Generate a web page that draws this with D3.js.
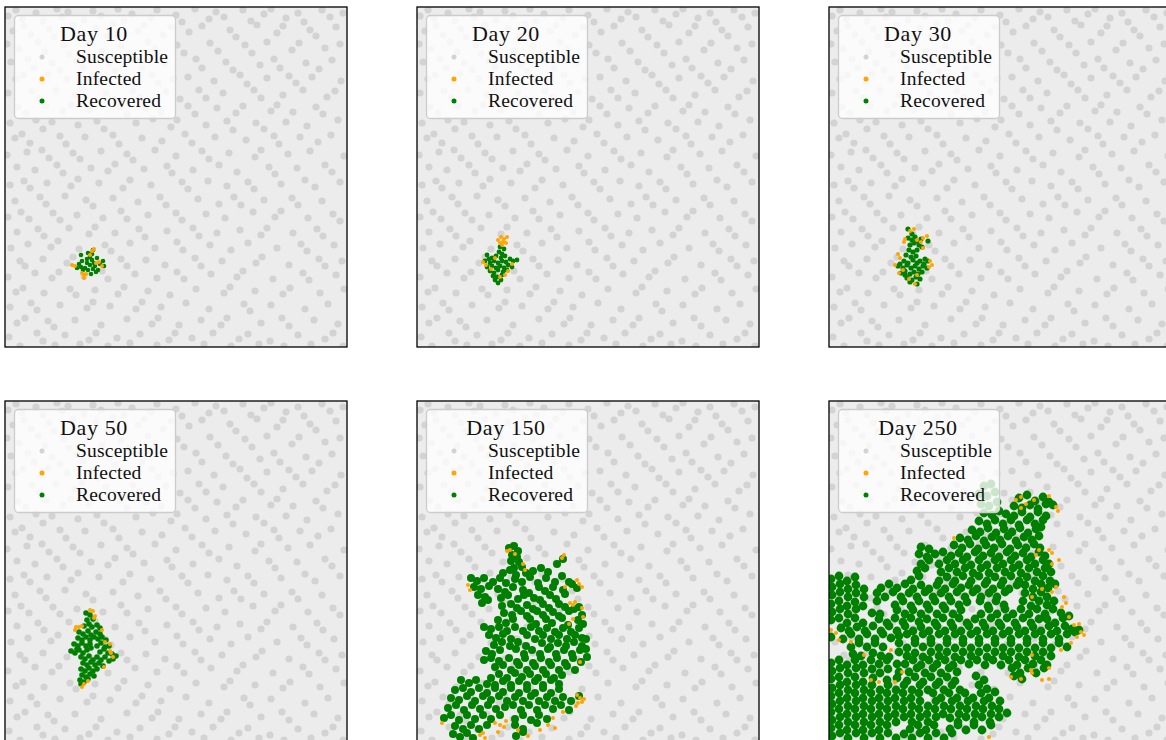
<!DOCTYPE html>
<html><head><meta charset="utf-8">
<script src="https://cdn.jsdelivr.net/npm/d3@7"></script>
<style>html,body{margin:0;padding:0;background:#fff;overflow:hidden}svg{display:block}text{font-family:"Liberation Serif",serif;fill:#111}</style>
</head><body><svg id="c" width="1166" height="740"></svg>
<script>
const days = [10,20,30,50,150,250];
const seriesNames = ["Susceptible","Infected","Recovered"];
const seriesColors = ["#d3d3d3","#ffa500","#008000"];
const susceptible = [
3,9,11,3,17,12,31,6,38,14,52,2,57,10,63,5,79,13,88,4,96,9,113,2,119,14,127,7,146,11,152,3,171,8,177,15,190,2,204,12,211,5,219,10,238,3,246,14,259,7,266,2,281,11,293,6,299,15,317,3,325,10,338,6,
8,24,19,19,26,28,44,22,49,30,68,18,74,27,91,21,102,29,108,17,133,24,139,18,158,28,166,20,184,25,197,19,225,23,231,30,252,18,272,26,278,19,305,23,311,29,331,20,
2,37,14,42,33,35,40,45,59,38,64,47,83,36,97,44,116,39,124,47,143,35,150,42,172,38,179,46,205,36,213,44,240,38,247,46,262,35,287,43,294,36,320,41,335,37,
6,55,23,52,29,61,47,56,55,63,72,54,78,60,104,57,110,64,130,53,137,61,160,56,191,52,197,61,221,55,228,63,255,58,269,52,275,61,301,56,314,62,327,53,
11,72,18,68,37,75,43,67,62,72,87,69,93,77,120,71,147,68,153,76,168,72,183,70,209,74,235,68,242,77,262,71,284,69,291,76,307,70,336,74,
3,86,27,84,34,91,51,83,70,88,77,82,101,86,109,92,128,84,135,90,161,85,175,92,194,83,201,91,218,86,249,83,256,91,278,88,298,83,322,90,330,84,
13,100,21,106,41,99,58,104,66,98,84,103,115,100,122,107,141,101,156,105,183,99,190,107,212,101,231,106,238,99,266,104,272,98,288,105,311,100,318,107,
5,116,31,113,38,122,47,115,73,118,92,114,99,122,131,116,148,112,166,120,172,113,201,118,222,114,228,123,251,116,259,122,281,115,302,119,333,113,
10,131,17,127,25,136,55,129,61,137,80,130,108,128,114,137,137,131,157,134,180,127,187,136,210,130,241,133,269,129,274,137,295,130,313,135,326,128,
2,148,22,145,37,143,44,151,68,146,75,152,96,144,122,147,128,153,150,143,171,149,197,144,204,152,224,146,250,150,256,143,283,147,305,144,339,149,
12,160,30,163,52,158,58,166,86,161,103,164,110,157,139,162,162,159,167,166,188,163,214,158,232,165,264,160,270,167,292,161,320,158,327,165,
5,178,19,174,25,181,42,176,66,179,73,172,94,176,118,181,125,173,146,178,177,175,183,182,203,174,222,179,243,175,249,182,276,177,300,173,310,180,335,175,
10,194,35,190,41,197,60,189,81,193,88,199,108,191,133,195,155,190,161,198,193,192,214,197,229,190,236,198,259,193,287,191,293,198,317,194,
3,210,16,205,24,212,48,206,55,213,72,208,98,211,116,204,122,212,143,208,171,206,177,213,201,207,220,211,248,205,270,210,276,204,303,211,328,207,335,214,
12,225,33,222,39,229,64,221,84,227,90,220,110,226,134,222,140,230,162,224,188,221,194,229,212,226,235,223,256,228,262,221,288,226,312,222,318,229,
6,241,23,237,46,240,53,234,74,242,100,238,106,244,125,236,150,241,172,235,178,243,205,238,226,243,243,236,272,241,296,237,302,244,329,238,
15,254,20,259,38,252,62,256,68,250,88,258,116,252,122,259,141,253,160,258,190,251,196,259,217,254,251,256,257,250,284,258,314,252,320,259,337,254,
3,270,30,266,47,271,54,265,79,269,97,264,103,272,130,267,152,271,172,265,179,272,206,267,232,270,238,264,268,272,298,266,304,273,331,268,
11,285,18,281,39,286,65,282,71,288,90,283,113,287,119,280,143,284,165,288,191,282,219,286,225,280,250,284,278,287,285,281,315,286,339,282,
5,300,26,296,32,303,55,298,82,301,88,295,105,299,131,302,137,295,156,300,181,296,204,302,239,297,245,304,266,298,300,302,323,297,
12,316,20,311,43,314,49,320,70,313,96,318,122,312,147,317,153,311,174,318,196,313,216,318,222,311,256,316,277,311,284,319,309,313,333,317,
4,330,32,326,38,334,60,328,84,333,91,326,112,331,135,327,164,333,170,326,187,331,208,326,234,332,243,327,265,334,293,328,320,332,328,326,
15,339,50,338,75,337,103,339,125,336,152,338,199,337,226,339,254,337,279,339,306,337,338,339];

const infected10 = [67,258,70,259,77,266,79,268,79,271,81,267,91,256,94,255,87,244,89,242,85,248,97,259];
const recovered10 = [76,248,83,246,88,243,77,254,82,252,85,250,92,251,98,254,87,253,89,256,76,260,80,261,85,258,90,259,95,257,78,263,83,263,88,262,93,263,86,267,82,256,74,257,87,247,99,259,72,261,91,265];

const infected20 = [81,233,84,230,87,232,90,230,83,236,86,235,89,236,85,238,69,258,66,255,78,251,95,257,91,264,88,268,74,262,83,270];
const recovered20 = [83,240,87,242,82,245,85,247,79,249,84,251,88,249,70,248,75,251,68,254,73,256,77,254,81,256,85,254,89,255,93,252,96,254,100,253,70,260,75,259,79,261,83,259,87,261,91,258,95,260,73,264,77,266,81,263,86,265,90,263,76,269,80,270,85,268,78,273,84,273,81,276,72,252];

const infected30 = [81,224,85,222,76,232,75,235,88,233,94,231,98,229,92,235,94,241,69,247,71,251,66,258,74,263,80,272,88,268,86,277,101,254,103,258,100,260,70,266];
const recovered30 = [79,222,83,227,86,230,79,231,83,233,88,234,92,232,99,234,81,238,85,236,90,238,93,240,80,243,84,245,88,243,77,248,82,250,87,249,75,254,79,256,84,253,88,256,91,254,95,257,99,254,69,259,74,261,78,258,82,261,86,259,90,262,94,259,98,261,72,266,76,264,81,267,85,265,89,267,93,265,78,271,83,273,87,270,91,272,88,277,81,275,76,268,71,257,96,252];

const infected50 = [85,209,88,210,90,215,89,217,71,226,74,226,77,225,70,229,97,229,100,241,105,243,105,250,106,252,108,256,99,266,79,283,77,286,83,280];
const recovered50 = [81,212,85,214,88,218,82,219,79,225,84,223,87,226,92,224,95,227,74,231,78,233,83,230,86,234,91,231,95,233,73,237,77,239,81,236,85,239,89,236,93,238,97,236,101,239,69,243,73,245,77,242,81,245,85,243,92,245,96,242,100,246,104,245,66,250,70,252,74,249,78,252,82,249,95,251,99,248,103,252,107,253,111,255,76,256,80,258,84,255,88,259,92,256,96,259,100,256,104,260,108,258,78,262,82,264,86,261,90,264,94,262,98,265,76,268,80,270,84,267,88,270,92,268,77,274,81,276,85,273,89,275,75,279,79,281,83,278,76,283,72,248,86,247];

const infected150 = [93,149,90,150,98,153,106,163,108,169,51,184,53,189,145,157,147,154,160,179,162,183,165,186,148,186,153,202,156,204,158,201,165,207,156,218,166,216,152,223,163,261,160,294,161,302,165,301,167,298,159,305,163,297,146,311,25,322,78,322,83,324,87,326,89,320,81,331,63,334,66,332,68,337,131,324,138,327,123,329,101,329,111,335,136,317];
const recovered150 = [
92,147,97,145,101,150,95,154,100,156,94,160,102,161,97,167,105,166,86,172,93,169,99,174,109,172,116,170,124,167,131,171,140,163,146,158,
54,177,60,180,67,177,76,181,83,177,89,182,98,178,105,181,113,176,121,182,129,177,138,181,145,175,152,181,
57,186,64,188,72,185,81,188,88,191,96,186,106,189,112,192,122,186,128,190,136,186,146,189,155,183,160,187,
61,194,68,196,84,197,91,194,101,198,107,194,117,197,123,199,133,194,139,198,148,193,
65,202,71,199,85,205,94,203,100,207,110,204,116,208,126,203,132,207,142,203,148,206,
87,212,95,214,104,210,110,215,120,210,126,214,136,211,142,215,152,210,157,208,162,206,
81,219,89,222,96,218,113,218,119,223,129,218,135,222,145,217,151,224,161,219,165,214,
67,226,74,228,82,226,90,230,98,226,106,230,114,226,122,230,130,227,138,231,146,227,154,231,162,227,166,223,
72,234,79,237,86,233,94,238,110,234,118,238,126,234,134,238,142,234,150,238,158,234,165,237,
77,244,85,241,93,245,101,241,109,245,125,242,133,246,141,242,149,245,157,241,165,245,169,238,
69,250,75,253,83,249,99,248,107,253,115,249,123,253,131,248,139,253,147,249,155,253,163,249,169,248,
67,259,74,257,82,260,92,257,100,261,108,257,116,262,124,257,132,261,140,257,148,262,156,257,164,261,170,256,
78,266,86,264,94,269,102,264,110,269,118,265,126,269,134,264,142,269,150,265,158,269,
74,277,82,273,90,277,98,272,105,276,113,273,121,277,129,273,137,277,145,274,
44,279,52,282,59,279,70,283,78,284,86,280,94,284,102,280,110,284,118,280,126,284,134,279,142,283,
38,289,46,287,54,291,62,287,70,292,78,287,86,291,94,287,102,292,110,288,118,292,126,287,134,292,142,288,
34,297,42,299,50,295,58,300,66,295,74,299,82,295,90,300,98,296,106,300,114,295,122,300,130,296,138,300,146,296,154,300,162,295,
31,307,39,304,47,309,55,304,63,308,71,304,79,308,88,306,96,304,104,309,112,304,120,309,128,304,136,308,144,304,152,309,
27,317,34,314,42,319,50,314,58,318,66,314,74,318,83,314,98,318,106,314,114,319,122,314,130,318,
38,325,46,328,54,324,62,328,70,324,98,324,106,328,120,322,
36,333,43,336,50,332,56,337,99,335,106,331];

const infected250 = [192,96,187,99,197,103,192,107,205,99,220,95,227,106,229,110,210,149,220,149,223,152,207,154,230,159,223,163,227,186,223,191,235,196,237,202,233,206,213,188,203,196,240,216,245,224,250,223,252,231,255,234,248,236,242,242,232,249,203,254,182,276,192,278,202,269,203,272,213,279,220,278,220,267,125,137,2,229,7,232,10,239,22,241,35,254,62,249,42,279,50,281,66,281,73,271,160,336];
const recovered250 = [
155,85,162,83,150,93,158,95,166,91,152,103,160,105,168,101,155,112,163,114,170,110,
190,97,198,94,206,100,214,96,220,101,185,105,193,107,201,104,209,108,217,103,224,104,177,113,185,115,193,111,201,116,209,111,217,115,
150,120,158,123,166,119,174,123,182,119,190,124,198,119,206,123,214,119,
143,129,151,131,159,127,167,132,175,128,183,131,191,127,199,132,207,128,212,126,
131,137,139,139,147,135,155,140,163,136,171,139,179,135,187,140,195,136,203,139,210,135,
92,146,100,148,125,144,133,147,141,143,149,148,157,144,165,147,173,143,181,148,189,144,197,147,205,143,211,147,
90,153,98,156,106,153,114,151,122,155,130,152,138,156,146,151,154,155,162,152,170,156,178,151,186,155,194,152,202,156,210,151,216,155,
92,163,100,159,110,163,118,159,126,163,134,159,142,164,150,159,158,164,166,159,174,163,182,159,190,164,198,159,206,163,214,159,220,163,
88,170,96,167,112,171,120,167,128,171,136,167,144,172,152,167,160,172,168,167,176,171,184,167,192,172,200,167,208,171,216,167,222,171,
2,178,10,175,18,180,26,176,82,179,90,175,110,180,118,176,126,180,134,175,142,180,150,175,158,180,166,176,174,180,182,175,190,180,198,176,206,180,214,175,221,180,
3,186,11,183,19,188,27,184,35,188,52,187,60,183,68,187,76,183,84,188,92,184,100,188,108,184,116,188,124,183,132,187,140,184,148,188,156,183,164,188,172,184,180,188,188,184,196,184,204,188,212,183,219,187,226,183,
3,194,11,191,19,196,27,192,35,196,48,192,56,196,64,191,72,196,80,192,88,196,96,191,104,196,112,192,120,196,128,191,136,196,144,191,152,196,160,192,168,196,176,191,196,192,204,196,212,191,218,196,
2,203,10,200,18,205,26,201,34,205,48,200,66,204,74,200,82,205,90,200,98,204,106,200,114,205,122,200,130,204,138,201,151,200,159,205,167,200,175,204,194,200,202,205,210,200,218,204,225,200,
3,211,11,208,19,213,27,208,43,212,51,213,68,209,76,213,84,209,92,213,100,208,108,213,116,208,124,213,132,209,152,213,160,208,168,213,176,208,184,213,192,208,200,213,208,208,216,213,224,208,232,212,
2,219,10,217,18,222,26,217,34,222,50,218,58,222,66,217,74,221,82,217,90,221,98,218,106,222,114,217,122,222,130,217,138,222,146,218,154,222,162,217,170,222,178,217,186,222,194,217,202,222,210,218,218,218,226,222,234,217,240,215,
12,227,20,230,28,226,36,230,44,225,52,230,60,225,68,230,76,225,84,230,92,226,100,230,108,225,116,230,124,226,132,230,140,225,148,230,156,226,164,230,172,225,180,230,188,226,196,230,204,226,212,230,220,225,228,230,236,225,243,228,
2,236,14,238,22,233,30,238,38,233,46,238,54,233,62,237,70,235,78,233,86,238,94,233,102,238,110,233,118,238,126,233,134,238,142,233,150,238,158,233,166,238,174,233,182,238,190,233,198,238,206,233,214,238,222,233,230,238,238,233,246,231,250,229,
22,246,30,242,38,246,46,242,54,246,70,242,78,247,86,242,94,246,102,242,110,247,118,242,126,247,134,242,142,247,150,242,158,247,166,242,174,247,182,242,190,247,198,242,206,247,214,242,222,247,230,242,238,246,
24,253,32,255,44,252,52,255,60,256,70,251,78,255,86,252,94,256,102,251,110,255,118,251,126,256,134,251,142,255,150,251,158,256,166,251,174,255,182,251,190,256,198,251,206,255,214,251,222,255,
2,262,10,259,18,264,26,259,34,264,42,259,50,263,58,259,68,263,76,263,84,259,92,264,100,259,108,263,116,259,124,264,132,259,140,263,148,259,156,264,164,259,172,264,180,259,188,264,196,259,204,263,212,259,218,264,
3,270,11,267,19,272,27,267,35,272,43,268,51,272,59,268,70,271,80,271,88,267,96,272,104,267,112,272,120,267,128,271,183,267,191,272,199,267,207,272,215,267,
2,278,10,276,18,281,26,276,34,281,44,277,58,279,68,277,78,280,86,276,94,281,102,276,110,281,118,276,126,280,147,275,155,279,185,275,193,278,
3,287,11,284,19,289,27,284,35,289,43,284,51,289,59,284,67,289,75,284,83,289,91,284,99,289,107,284,115,289,123,284,131,289,150,284,158,288,
2,295,10,292,18,297,26,292,34,297,42,292,50,297,58,292,66,297,74,292,82,297,90,292,104,292,112,297,120,292,128,297,136,292,144,297,152,292,160,297,166,291,
3,303,11,300,19,305,27,300,35,305,43,300,51,305,59,300,67,305,75,300,83,305,91,300,99,305,107,300,115,305,123,300,131,305,139,300,147,305,155,300,163,305,171,300,
2,311,10,308,18,313,26,308,34,313,42,308,50,313,58,308,66,313,74,308,82,313,90,308,98,313,106,308,114,313,122,308,130,313,138,308,146,313,154,308,162,313,170,308,178,312,
3,319,11,316,19,321,27,316,35,321,43,316,51,321,59,316,67,321,75,316,83,321,91,316,99,321,107,316,121,317,129,321,137,316,145,321,153,316,161,321,170,316,
2,327,10,324,18,329,26,324,34,329,42,324,50,329,58,324,81,328,89,324,97,329,105,324,121,328,129,324,137,329,145,324,153,329,162,324,
3,335,11,332,19,337,27,332,35,337,43,332,51,337,59,332,67,337,75,333,83,337,91,332,99,337,107,332,115,337,123,332];

const infectedByDay = [infected10,infected20,infected30,infected50,infected150,infected250];
const recoveredByDay = [recovered10,recovered20,recovered30,recovered50,recovered150,recovered250];
const markerRadius = [2.3,2.4,2.6,2.8,4.0,4.4];

const colLeft = [5,417,829], rowTop = [7,401], panelW = 342, panelH = 340;
const svg = d3.select("#c");
const pairs = f => d3.range(0,f.length,2).map(i=>[f[i],f[i+1]]);

days.forEach((day,i)=>{
  const px = colLeft[i%3], py = rowTop[Math.floor(i/3)];
  const x = d3.scaleLinear().domain([0,342]).range([px,px+panelW]);
  const y = d3.scaleLinear().domain([0,342]).range([py,py+342]);
  const clipId = "clip"+i;
  svg.append("clipPath").attr("id",clipId).append("rect").attr("x",px).attr("y",py).attr("width",panelW).attr("height",panelH);
  const g = svg.append("g").attr("clip-path",`url(#${clipId})`);
  g.append("rect").attr("x",px).attr("y",py).attr("width",panelW).attr("height",panelH).attr("fill","#ececec");
  const draw = (flat,color,r)=>g.append("g").selectAll("circle").data(pairs(flat)).join("circle")
    .attr("cx",d=>x(d[0])).attr("cy",d=>y(d[1])).attr("r",r).attr("fill",color);
  draw(susceptible,seriesColors[0],3.6);
  draw(recoveredByDay[i],seriesColors[2],markerRadius[i]);
  draw(infectedByDay[i],seriesColors[1],2);
  svg.append("rect").attr("x",px).attr("y",py).attr("width",panelW).attr("height",panelH)
    .attr("fill","none").attr("stroke","#000").attr("stroke-width",1.3);
  const lg = svg.append("g").attr("transform",`translate(${px+9},${py+8})`);
  lg.append("rect").attr("x",0.5).attr("y",0.5).attr("width",161).attr("height",103).attr("rx",4)
    .attr("fill","#fff").attr("fill-opacity",0.8).attr("stroke","#cccccc").attr("stroke-width",1.3);
  lg.append("text").attr("x",80).attr("y",26).attr("text-anchor","middle").attr("font-size",22).attr("letter-spacing",0.6).text("Day "+day);
  seriesNames.forEach((n,j)=>{
    lg.append("circle").attr("cx",28).attr("cy",42+j*22).attr("r",2.5).attr("fill",seriesColors[j]);
    lg.append("text").attr("x",62).attr("y",48+j*22).attr("font-size",19.5).attr("letter-spacing",0.2).text(n);
  });
});
</script></body></html>
